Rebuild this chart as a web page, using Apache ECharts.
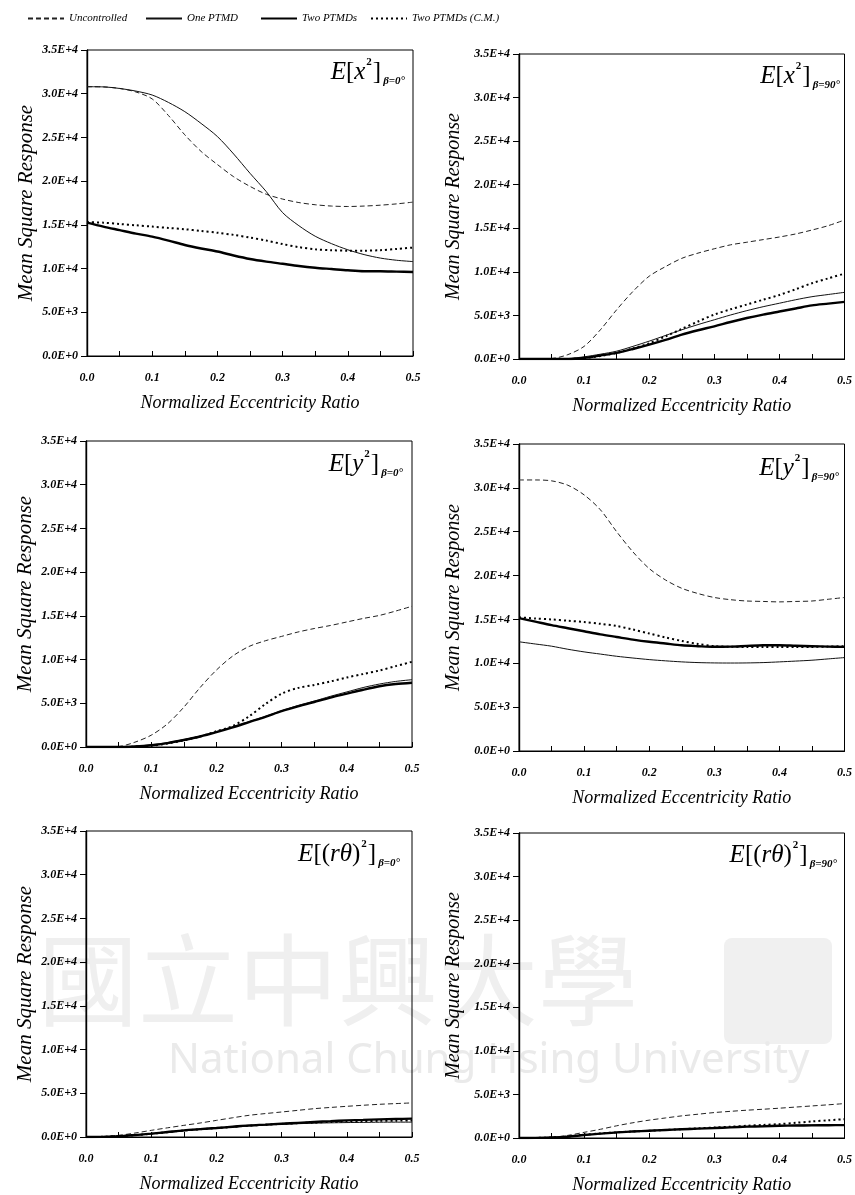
<!DOCTYPE html>
<html>
<head>
<meta charset="utf-8">
<title>Mean Square Response</title>
<script src="https://cdn.jsdelivr.net/npm/echarts@6/dist/echarts.min.js"></script>
<style>
  html, body { margin: 0; padding: 0; background: #fff; }
  #chart { width: 855px; height: 1195px; }
</style>
</head>
<body>
<div id="chart"></div>
<script>
// normalized eccentricity ratio
const xs = [0, 0.025, 0.05, 0.075, 0.1, 0.125, 0.15, 0.175, 0.2, 0.225, 0.25,
  0.275, 0.3, 0.325, 0.35, 0.375, 0.4, 0.425, 0.45, 0.475, 0.5]
const yTicks = [0, 5000, 10000, 15000, 20000, 25000, 30000, 35000]
const seriesNames = ['Uncontrolled', 'One PTMD', 'Two PTMDs', 'Two PTMDs (C.M.)']

// E[x^2], beta = 0
const x2b0Unc = [30800, 30780, 30600, 30200, 29400, 27500, 25300, 23400, 21900, 20500, 19400, 18500, 17950, 17550, 17300, 17150, 17100, 17150, 17250, 17400, 17600]
const x2b0One = [30800, 30780, 30600, 30300, 29850, 29000, 27950, 26600, 25100, 23100, 20900, 18800, 16400, 14900, 13700, 12850, 12150, 11600, 11200, 10950, 10800]
const x2b0Two = [15250, 14800, 14400, 14000, 13650, 13200, 12700, 12300, 11950, 11500, 11100, 10800, 10550, 10300, 10100, 9950, 9800, 9700, 9700, 9650, 9600]
const x2b0Cm = [15300, 15250, 15100, 14950, 14800, 14650, 14500, 14300, 14100, 13850, 13550, 13200, 12800, 12450, 12200, 12100, 12050, 12050, 12100, 12250, 12400]

// E[x^2], beta = 90
const x2b90Unc = [0, 0, 50, 500, 1450, 3350, 5650, 7750, 9500, 10600, 11550, 12150, 12650, 13100, 13400, 13700, 14000, 14350, 14800, 15300, 15950]
const x2b90One = [0, 0, 0, 50, 250, 550, 900, 1450, 2050, 2700, 3350, 3950, 4500, 5050, 5550, 6000, 6400, 6800, 7150, 7400, 7650]
const x2b90Two = [0, 0, 0, 0, 120, 400, 700, 1150, 1650, 2200, 2800, 3300, 3750, 4250, 4700, 5100, 5450, 5800, 6150, 6350, 6550]
const x2b90Cm = [0, 0, 0, 0, 100, 350, 700, 1200, 1800, 2600, 3450, 4300, 5100, 5700, 6250, 6800, 7350, 8000, 8700, 9250, 9800]

// E[y^2], beta = 0
const y2b0Unc = [0, 0, 50, 550, 1350, 2650, 4550, 6800, 8800, 10400, 11500, 12150, 12650, 13150, 13550, 13900, 14300, 14700, 15050, 15550, 16100]
const y2b0One = [0, 0, 0, 80, 250, 500, 850, 1250, 1750, 2300, 2900, 3500, 4150, 4750, 5250, 5800, 6300, 6800, 7200, 7500, 7700]
const y2b0Two = [0, 0, 0, 60, 200, 450, 800, 1200, 1700, 2250, 2850, 3450, 4100, 4650, 5150, 5650, 6100, 6550, 6950, 7200, 7350]
const y2b0Cm = [0, 0, 0, 40, 150, 400, 750, 1200, 1800, 2400, 3500, 4900, 6100, 6750, 7100, 7500, 7950, 8350, 8750, 9250, 9750]

// E[y^2], beta = 90
const y2b90Unc = [30900, 30900, 30800, 30300, 29200, 27500, 25000, 22700, 20800, 19500, 18550, 17950, 17500, 17250, 17100, 17050, 17000, 17050, 17100, 17300, 17500]
const y2b90One = [12450, 12200, 11950, 11600, 11300, 11050, 10800, 10600, 10420, 10280, 10160, 10080, 10040, 10030, 10040, 10080, 10160, 10250, 10350, 10500, 10650]
const y2b90Two = [15150, 14750, 14350, 14000, 13650, 13300, 13000, 12700, 12450, 12250, 12050, 11950, 11880, 11900, 11980, 12050, 12060, 12000, 11950, 11900, 11870]
const y2b90Cm = [15250, 15100, 15000, 14850, 14700, 14500, 14250, 13850, 13400, 12950, 12550, 12200, 11950, 11880, 11870, 11870, 11870, 11870, 11870, 11900, 11950]

// E[(r theta)^2], beta = 0
const rt2b0Unc = [0, 50, 190, 450, 760, 1050, 1330, 1600, 1900, 2200, 2480, 2680, 2860, 3050, 3240, 3380, 3510, 3630, 3740, 3820, 3900]
const rt2b0One = [0, 20, 80, 200, 350, 520, 700, 860, 1000, 1120, 1250, 1350, 1450, 1520, 1580, 1620, 1650, 1670, 1690, 1700, 1700]
const rt2b0Two = [0, 20, 80, 220, 380, 570, 760, 900, 1030, 1180, 1330, 1420, 1520, 1620, 1720, 1810, 1900, 1960, 2020, 2060, 2100]
const rt2b0Cm = [0, 20, 80, 210, 370, 550, 740, 880, 1020, 1150, 1300, 1400, 1500, 1580, 1660, 1720, 1780, 1820, 1850, 1870, 1880]

// E[(r theta)^2], beta = 90
const rt2b90Unc = [0, 20, 80, 300, 650, 1000, 1400, 1750, 2050, 2300, 2540, 2730, 2920, 3060, 3190, 3300, 3420, 3550, 3680, 3810, 3950]
const rt2b90One = [0, 10, 50, 150, 330, 500, 650, 780, 860, 950, 1020, 1080, 1150, 1220, 1300, 1360, 1420, 1460, 1500, 1520, 1550]
const rt2b90Two = [0, 10, 50, 150, 340, 500, 650, 750, 835, 920, 1000, 1070, 1140, 1220, 1300, 1350, 1400, 1430, 1450, 1470, 1480]
const rt2b90Cm = [0, 10, 60, 170, 380, 520, 650, 750, 835, 930, 1020, 1110, 1210, 1300, 1400, 1500, 1590, 1740, 1900, 2030, 2160]

const serif = "'Liberation Serif', 'DejaVu Serif', serif"

const lineStyles = {
  'Uncontrolled': { type: [5, 3], width: 1, color: '#222' },
  'One PTMD': { type: 'solid', width: 1, color: '#111' },
  'Two PTMDs': { type: 'solid', width: 2.4, color: '#000' },
  'Two PTMDs (C.M.)': { type: [2, 3], width: 2, color: '#000' },
}

const panels = [
  { grid: { left: 87, top: 50, width: 326, height: 306 }, label: ['x', '', 'β=0°'], tRight: 445, tTop: 52,
    data: [x2b0Unc, x2b0One, x2b0Two, x2b0Cm] },
  { grid: { left: 519, top: 54, width: 328, height: 305 }, label: ['x', '', 'β=90°'], tRight: 10, tTop: 56,
    data: [x2b90Unc, x2b90One, x2b90Two, x2b90Cm] },
  { grid: { left: 86, top: 441, width: 326, height: 306 }, label: ['y', '', 'β=0°'], tRight: 447, tTop: 444,
    data: [y2b0Unc, y2b0One, y2b0Two, y2b0Cm] },
  { grid: { left: 519, top: 444, width: 327, height: 307 }, label: ['y', '', 'β=90°'], tRight: 11, tTop: 448,
    data: [y2b90Unc, y2b90One, y2b90Two, y2b90Cm] },
  { grid: { left: 86, top: 831, width: 326, height: 306 }, label: ['rθ', '(', 'β=0°'], tRight: 450, tTop: 834,
    data: [rt2b0Unc, rt2b0One, rt2b0Two, rt2b0Cm] },
  { grid: { left: 519, top: 833, width: 328, height: 308 }, label: ['rθ', '(', 'β=90°'], tRight: 13, tTop: 835,
    data: [rt2b90Unc, rt2b90One, rt2b90Two, rt2b90Cm] },
]

const pairs = ys => xs.map((x, i) => [x, ys[i]])

function panelTitle(p) {
  const [v, open, sub] = p.label
  const body = open
    ? '{e|E}{b|[(}{v|' + v + '}{b|)}{p|2}{b|]}{s|' + sub + '}'
    : '{e|E}{b|[}{v|' + v + '}{p|2}{b|]}{s|' + sub + '}'
  const base = { fontFamily: serif, fontWeight: 'normal', color: '#000', lineHeight: 30 }
  return {
    text: body,
    right: p.tRight,
    top: p.tTop,
    textStyle: {
      rich: {
        e: Object.assign({ fontStyle: 'italic', fontSize: 25 }, base),
        b: Object.assign({ fontSize: 25 }, base),
        v: Object.assign({ fontStyle: 'italic', fontSize: 25 }, base),
        p: { fontFamily: serif, fontSize: 11, color: '#000', verticalAlign: 'top', lineHeight: 24, padding: [0, 1, 0, 1] },
        s: { fontFamily: serif, fontStyle: 'italic', fontWeight: 'bold', fontSize: 11, color: '#000',
          verticalAlign: 'bottom', lineHeight: 12, padding: [0, 0, 0, 2] },
      },
    },
  }
}

const legendLeft = [22, 140, 255, 365]

const option = {
  animation: false,
  backgroundColor: '#fff',
  title: panels.map(panelTitle),
  legend: seriesNames.map((name, i) => ({
    data: [name],
    left: legendLeft[i],
    top: 8,
    itemWidth: 36,
    itemHeight: 12,
    selectedMode: false,
    itemStyle: { opacity: 0 },
    textStyle: { fontFamily: serif, fontStyle: 'italic', fontSize: 11, color: '#000' },
  })),
  grid: panels.map(p => Object.assign({ show: true, borderColor: '#000', borderWidth: 1 }, p.grid)),
  xAxis: panels.map((p, i) => ({
    gridIndex: i,
    type: 'value',
    min: 0,
    max: 0.5,
    interval: 0.05,
    name: 'Normalized Eccentricity Ratio',
    nameLocation: 'middle',
    nameGap: 38,
    nameTextStyle: { fontFamily: serif, fontStyle: 'italic', fontSize: 18, color: '#000' },
    axisLine: { lineStyle: { color: '#000', width: 1.2 } },
    axisTick: { inside: true, length: 5, lineStyle: { color: '#000' } },
    splitLine: { show: false },
    axisLabel: {
      margin: 16,
      fontFamily: serif,
      fontStyle: 'italic',
      fontWeight: 'bold',
      fontSize: 12,
      color: '#000',
      formatter: v => (Math.round(v * 20) % 2 === 0 ? v.toFixed(1) : ''),
    },
  })),
  yAxis: panels.map((p, i) => ({
    gridIndex: i,
    type: 'value',
    min: yTicks[0],
    max: yTicks[yTicks.length - 1],
    interval: yTicks[1] - yTicks[0],
    name: 'Mean Square Response',
    nameLocation: 'middle',
    nameGap: i % 2 === 0 ? 50 : 55,
    nameTextStyle: { fontFamily: serif, fontStyle: 'italic', fontSize: i % 2 === 0 ? 21 : 20, color: '#000' },
    axisLine: { lineStyle: { color: '#000', width: 1.4 } },
    axisTick: { length: 6, lineStyle: { color: '#000' } },
    splitLine: { show: false },
    axisLabel: {
      margin: 9,
      fontFamily: serif,
      fontStyle: 'italic',
      fontWeight: 'bold',
      fontSize: 12,
      color: '#000',
      formatter: v => v.toExponential(1).toUpperCase(),
    },
  })),
  // faint watermark in the lower panels
  graphic: [
    { type: 'text', left: 38, top: 930, z: -10, silent: true,
      style: { text: '國立中興大學', font: "100px 'Noto Sans CJK TC'", fill: '#efefef' } },
    { type: 'rect', left: 724, top: 938, z: -10, silent: true,
      shape: { width: 108, height: 106, r: 8 }, style: { fill: '#f0f0f0' } },
    { type: 'text', left: 168, top: 1040, z: -10, silent: true,
      style: { text: 'National Chung Hsing University', font: "42px 'Noto Sans'", fill: '#eaeaea' } },
  ],
  series: [],
}

panels.forEach((p, i) => {
  seriesNames.forEach((name, k) => {
    option.series.push({
      name: name,
      type: 'line',
      xAxisIndex: i,
      yAxisIndex: i,
      symbol: 'none',
      smooth: 0.3,
      lineStyle: lineStyles[name],
      itemStyle: { color: lineStyles[name].color },
      data: pairs(p.data[k]),
    })
  })
})

const chart = echarts.init(document.getElementById('chart'))
chart.setOption(option)
</script>
</body>
</html>
